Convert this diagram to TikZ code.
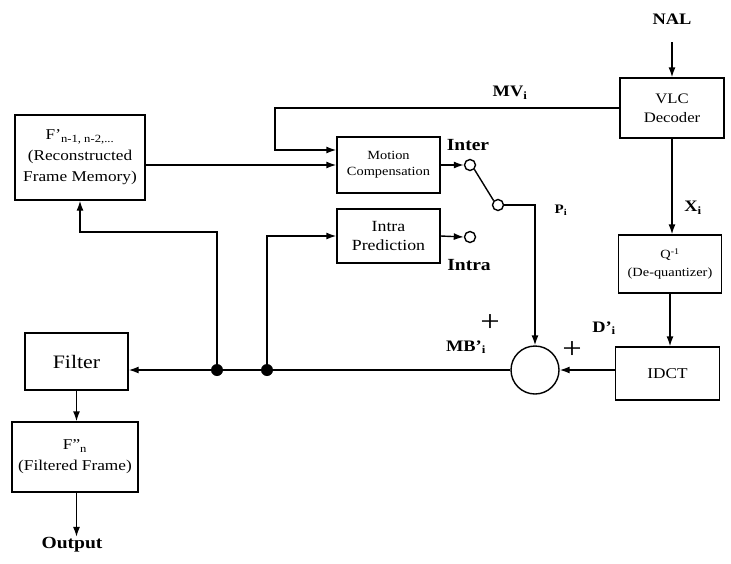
\documentclass[tikz,border=0pt]{standalone}
\usepackage{fontspec}
\setmainfont[FakeStretch=1.15]{Liberation Serif}
\usetikzlibrary{positioning, arrows.meta, calc}

\newcommand{\fs}[2]{\fontsize{#1}{#2}\selectfont}

\begin{document}
\begin{tikzpicture}[
    x=1pt, y=-1pt,
    >={Latex[length=10pt, width=7pt]},
    line width=1.4pt,
    % --- node styles ---
    blk/.style    ={draw, align=center, fill=white, inner sep=0pt},
    sig/.style    ={font=\fs{16}{18}\bfseries, inner sep=0pt},
    contact/.style={draw, circle, minimum size=11pt, inner sep=0pt},
    joint/.style  ={fill, circle, minimum size=12pt, inner sep=0pt},
    % --- wire styles ---
    wire/.style   ={->},
]
\useasboundingbox[fill=white] (0,0) rectangle (731,563);

% =============== blocks ===============
\node[blk, minimum width=130pt, minimum height=85pt, font=\fs{15}{21}] (fmem) at (80,157.5)
      {F'\textsubscript{\fs{11}{12}n-1, n-2,...}\\ (Reconstructed\\ Frame Memory)};
\node[blk, minimum width=103pt, minimum height=56pt, font=\fs{12.5}{16}] (mc) at (388.5,165)
      {Motion\\ Compensation};
\node[blk, minimum width=103pt, minimum height=54pt, font=\fs{15.5}{19}] (intra) at (388.5,236)
      {Intra\\ Prediction};
\node[blk, minimum width=104pt, minimum height=60pt, font=\fs{14.5}{19}] (vlc) at (672,108)
      {VLC\\ Decoder};
\node[blk, minimum width=103pt, minimum height=58pt, font=\fs{12.5}{18}] (deq) at (670,264)
      {Q\textsuperscript{-1}\\ (De-quantizer)};
\node[blk, minimum width=104pt, minimum height=53pt, font=\fs{15}{18}] (idct) at (667.5,373.5)
      {IDCT};
\node[draw, circle, minimum size=48pt, inner sep=0pt] (adder) at (535,370) {};
\node[blk, minimum width=103pt, minimum height=57pt, font=\fs{19}{20}] (filter) at (76.5,361.5)
      {Filter};
\node[blk, minimum width=126pt, minimum height=70pt, font=\fs{15}{21}] (ffr) at (75,457)
      {F''\textsubscript{\fs{11}{12}n}\\ (Filtered Frame)};

% =============== switch ===============
\node[contact] (cinter) at (470,165) {};
\node[contact] (cintra) at (470,237) {};
\node[contact] (cpivot) at (498,205) {};

% =============== junctions ===============
\node[joint] (j1) at (217,370) {};
\node[joint] (j2) at (267,370) {};
\coordinate (mvturn) at (275,150);
\coordinate (fbturn) at (80,232);

% =============== labels ===============
\node[sig] (nal) at (672,19) {NAL};
\node[sig] (mv) at (510,93) {MV\textsubscript{i}};
\node[sig, font=\fs{17}{19}\bfseries] (linter) at (468,145) {Inter};
\node[sig, font=\fs{17}{19}\bfseries] (lintra) at (469,265) {Intra};
\node[sig, font=\fs{13}{15}\bfseries] (pi) at (561,210) {P\textsubscript{i}};
\node[sig] (xi) at (693,208) {X\textsubscript{i}};
\node[sig] (di) at (604,328) {D'\textsubscript{i}};
\node[sig] (mbi) at (466,347) {MB'\textsubscript{i}};
\node[font=\fs{30}{30}, inner sep=0pt] (plus1) at (490,323) {+};
\node[font=\fs{30}{30}, inner sep=0pt] (plus2) at (572,350) {+};
\node[sig, font=\fs{17}{19}\bfseries] (out) at (72,545) {Output};

% =============== wires ===============
\draw[wire] (nal.south |- 0,42) -- (nal.south |- vlc.north);
\draw[wire] (vlc.west) -| (mvturn) -- (mvturn -| mc.west);
\draw[wire] (fmem.east |- mc.west) -- (mc.west);
\draw[wire] (mc.east) -- (cinter.west);
\draw[wire] (intra.east) -- (cintra.west);
\draw (cinter.south east) -- (cpivot.north west);
\draw[wire] (cpivot.east) -| (adder.north);
\draw[wire] (vlc.south) -- (vlc.south |- deq.north);
\draw[wire] (deq.south) -- (deq.south |- idct.north);
\draw[wire] (idct.west |- adder.east) -- (adder.east);
\draw[wire] (adder.west) -- (adder.west -| filter.east);
\draw[wire] (j1.center) |- (fbturn) -- (fmem.south);
\draw[wire] (j2.center) |- (intra.west);
\draw[wire] (filter.south) -- (filter.south |- ffr.north);
\draw[wire] (ffr.south -| filter.south) -- (filter.south |- out.north);

\end{tikzpicture}
\end{document}
